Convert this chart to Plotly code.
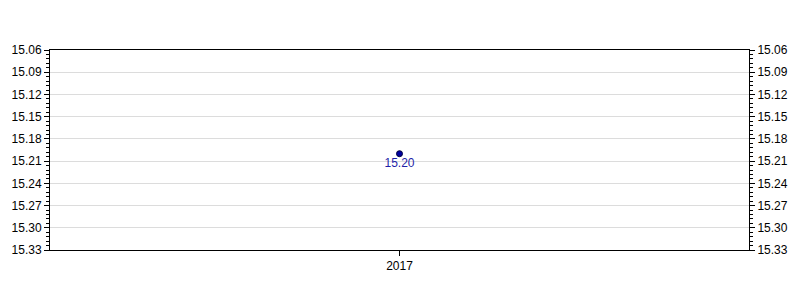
import plotly.graph_objects as go

years = ["2017"]
values = [15.20]
labels = ["15.20"]

y_range = [15.33, 15.06]
y_tick0 = 15.06
y_dtick = 0.03

fig = go.Figure()
fig.add_trace(go.Scatter(
    x=years, y=values, mode="markers+text",
    text=labels, textposition="bottom center",
    textfont=dict(color="#1f1fa8", size=12, family="Liberation Sans, Arial"),
    marker=dict(color="#0000a0", size=6, line=dict(color="#000040", width=1)),
    showlegend=False, cliponaxis=False,
))
fig.add_trace(go.Scatter(
    x=years, y=values, mode="markers", yaxis="y2",
    marker=dict(opacity=0), showlegend=False, hoverinfo="skip",
))

axis_font = dict(family="Liberation Sans, Arial", size=12, color="#000")
yax = dict(
    range=y_range, tick0=y_tick0, dtick=y_dtick, tickformat=".2f",
    ticks="outside", ticklen=5, tickwidth=1, tickcolor="#000",
    minor=dict(ticks="outside", ticklen=3, tickcolor="#000", dtick=0.006, tick0=y_tick0, showgrid=False),
    showline=True, linecolor="#000", linewidth=1,
    showgrid=True, gridcolor="#dcdcdc", gridwidth=1,
    zeroline=False, tickfont=axis_font,
)
fig.update_layout(
    width=800, height=300,
    margin=dict(l=47, r=48, t=50, b=50),
    paper_bgcolor="white", plot_bgcolor="white",
    xaxis=dict(type="category", showline=True, linecolor="#000", linewidth=1,
               mirror=True, ticks="outside", ticklen=5, tickcolor="#000",
               showgrid=False, tickfont=axis_font),
    yaxis=yax,
    yaxis2=dict(yax, overlaying="y", side="right", showgrid=False),
)
fig.write_html("out.html")
